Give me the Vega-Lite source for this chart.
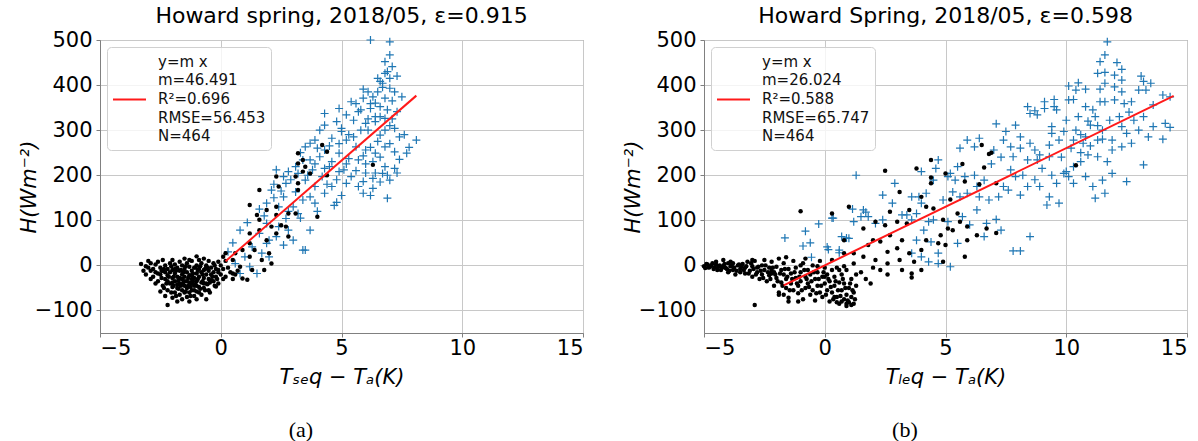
{
"$schema": "https://vega.github.io/schema/vega-lite/v6.json",
"padding": {"left": 17, "top": 4, "right": 0, "bottom": 0},
"config": {
 "font": "DejaVu Sans",
 "view": {"stroke": "#808080", "strokeWidth": 1},
 "axis": {"grid": true, "gridColor": "#c8c8c8", "gridWidth": 1, "domainColor": "#808080", "tickColor": "#808080", "tickSize": 4, "labelFont": "DejaVu Sans", "labelFontSize": 21, "labelColor": "#000", "labelPadding": 4, "titleFont": "DejaVu Sans", "titleFontSize": 21, "titleFontStyle": "italic", "titleFontWeight": "normal", "titleColor": "#000"},
 "title": {"font": "DejaVu Sans", "fontSize": 22, "fontWeight": "normal", "color": "#000"},
 "legend": {"orient": "top-left", "offset": 7, "padding": 5, "fillColor": "rgba(255,255,255,0.8)", "strokeColor": "#d0d0d0", "cornerRadius": 4, "labelFont": "DejaVu Sans", "labelFontSize": 15, "labelColor": "#111", "labelLimit": 0, "labelOffset": 11, "symbolType": "stroke", "symbolSize": 1089, "symbolStrokeWidth": 2, "title": null}
},
"datasets": {
 "aFit": [{"x": 0.2, "y": 9.3, "label": "fit"}, {"x": 8.1, "y": 376.6, "label": "fit"}],
 "bFit": [{"x": -1.7, "y": -44.2, "label": "fit"}, {"x": 14.45, "y": 376.0, "label": "fit"}],
 "aPlus": [
{"x":7.0,"y":496},{"x":6.2,"y":500},{"x":7.0,"y":467},{"x":6.8,"y":452},{"x":7.1,"y":441},{"x":6.8,"y":426},{"x":7.3,"y":420},{"x":6.6,"y":408},{"x":7.0,"y":393},{"x":6.5,"y":385},{"x":6.8,"y":371},{"x":7.5,"y":374},{"x":6.3,"y":374},{"x":5.9,"y":391},{"x":5.9,"y":371},{"x":5.6,"y":359},{"x":5.7,"y":341},{"x":6.2,"y":348},{"x":6.6,"y":352},{"x":7.3,"y":341},{"x":6.8,"y":326},{"x":6.4,"y":319},{"x":6.0,"y":315},{"x":5.5,"y":322},{"x":5.2,"y":334},{"x":4.9,"y":348},{"x":4.3,"y":337},{"x":4.8,"y":319},{"x":4.3,"y":311},{"x":5.0,"y":297},{"x":5.5,"y":285},{"x":6.1,"y":300},{"x":6.6,"y":289},{"x":7.2,"y":304},{"x":7.4,"y":285},{"x":8.1,"y":278},{"x":7.7,"y":249},{"x":7.2,"y":252},{"x":6.8,"y":263},{"x":6.4,"y":249},{"x":6.0,"y":256},{"x":5.6,"y":263},{"x":5.2,"y":278},{"x":4.6,"y":282},{"x":4.1,"y":300},{"x":3.9,"y":278},{"x":4.3,"y":256},{"x":4.9,"y":249},{"x":5.3,"y":237},{"x":5.7,"y":234},{"x":6.3,"y":230},{"x":6.8,"y":219},{"x":7.2,"y":215},{"x":7.0,"y":189},{"x":6.7,"y":204},{"x":6.3,"y":193},{"x":5.9,"y":186},{"x":5.4,"y":197},{"x":4.9,"y":208},{"x":4.5,"y":219},{"x":4.1,"y":241},{"x":3.7,"y":234},{"x":3.5,"y":263},{"x":3.8,"y":212},{"x":4.2,"y":197},{"x":4.6,"y":175},{"x":5.2,"y":182},{"x":5.7,"y":175},{"x":6.3,"y":171},{"x":6.9,"y":149},{"x":4.3,"y":160},{"x":3.9,"y":175},{"x":3.5,"y":189},{"x":3.2,"y":204},{"x":3.1,"y":219},{"x":2.8,"y":208},{"x":2.7,"y":182},{"x":2.6,"y":197},{"x":2.3,"y":212},{"x":3.7,"y":152},{"x":3.9,"y":138},{"x":3.4,"y":145},{"x":3.1,"y":163},{"x":3.0,"y":130},{"x":3.2,"y":115},{"x":2.6,"y":152},{"x":2.4,"y":130},{"x":2.1,"y":167},{"x":1.9,"y":138},{"x":2.7,"y":104},{"x":2.4,"y":86},{"x":2.3,"y":64},{"x":3.0,"y":56},{"x":3.4,"y":34},{"x":3.5,"y":34},{"x":3.7,"y":78},{"x":2.8,"y":78},{"x":1.9,"y":93},{"x":2.0,"y":56},{"x":1.6,"y":71},{"x":0.8,"y":78},{"x":1.3,"y":41},{"x":1.7,"y":27},{"x":2.0,"y":19},{"x":1.0,"y":19},{"x":0.6,"y":4},{"x":1.2,"y":-3},{"x":1.5,"y":-18},{"x":0.8,"y":-18},{"x":1.9,"y":49},{"x":3.7,"y":271},{"x":3.4,"y":234},{"x":5.0,"y":304},{"x":5.4,"y":363},{"x":6.2,"y":359},{"x":6.7,"y":404},{"x":7.0,"y":415},
{"x":6.9,"y":430},{"x":6.5,"y":415},{"x":6.1,"y":385},{"x":7.1,"y":365},{"x":6.9,"y":345},{"x":6.6,"y":330},{"x":6.1,"y":325},{"x":7.0,"y":310},{"x":6.8,"y":300},{"x":7.6,"y":290},{"x":5.8,"y":300},{"x":6.5,"y":275},{"x":7.0,"y":270},{"x":6.2,"y":262},{"x":5.9,"y":243},{"x":6.6,"y":240},{"x":7.4,"y":235},{"x":6.0,"y":225},{"x":5.2,"y":225},{"x":4.6,"y":230},{"x":6.9,"y":200},{"x":6.4,"y":205},{"x":5.6,"y":210},{"x":5.1,"y":212},{"x":7.3,"y":205},{"x":6.6,"y":185},{"x":5.9,"y":160},{"x":6.2,"y":155},{"x":4.8,"y":140},{"x":4.7,"y":133},{"x":5.0,"y":155},{"x":4.4,"y":180},{"x":3.6,"y":200},{"x":2.9,"y":190},{"x":2.2,"y":180},{"x":4.0,"y":260},{"x":4.5,"y":265},{"x":5.3,"y":290},{"x":5.8,"y":345},{"x":6.4,"y":360},{"x":7.2,"y":385},{"x":6.7,"y":395},{"x":6.4,"y":330},{"x":7.1,"y":325},{"x":4.9,"y":270},{"x":3.3,"y":250},{"x":3.9,"y":225},{"x":4.3,"y":215},{"x":2.5,"y":165},{"x":2.2,"y":150},{"x":1.6,"y":125},{"x":1.1,"y":95},{"x":0.5,"y":50},{"x":0.3,"y":30},{"x":2.8,"y":120},{"x":3.3,"y":105},{"x":2.6,"y":45},{"x":1.8,"y":110},{"x":4.0,"y":120},{"x":4.8,"y":190},{"x":6.0,"y":205},{"x":7.8,"y":262}
 ],
 "aDot": [
{"x":-3.3,"y":3},{"x":-3.2,"y":-12},{"x":-3.0,"y":-5},{"x":-2.9,"y":5},{"x":-2.8,"y":-25},{"x":-2.8,"y":-8},{"x":-2.7,"y":2},{"x":-2.7,"y":-15},{"x":-2.6,"y":-35},{"x":-2.6,"y":8},{"x":-2.5,"y":-20},{"x":-2.5,"y":-5},{"x":-2.4,"y":-45},{"x":-2.4,"y":-12},{"x":-2.4,"y":12},{"x":-2.3,"y":-68},{"x":-2.3,"y":-30},{"x":-2.3,"y":0},{"x":-2.2,"y":-88},{"x":-2.2,"y":-55},{"x":-2.2,"y":-22},{"x":-2.2,"y":-8},{"x":-2.1,"y":-40},{"x":-2.1,"y":-15},{"x":-2.1,"y":5},{"x":-2.0,"y":-72},{"x":-2.0,"y":-48},{"x":-2.0,"y":-28},{"x":-2.0,"y":-10},{"x":-1.9,"y":-60},{"x":-1.9,"y":-35},{"x":-1.9,"y":-18},{"x":-1.9,"y":2},{"x":-1.8,"y":-80},{"x":-1.8,"y":-50},{"x":-1.8,"y":-25},{"x":-1.8,"y":-5},{"x":-1.7,"y":-65},{"x":-1.7,"y":-40},{"x":-1.7,"y":-12},{"x":-1.7,"y":8},{"x":-1.6,"y":-75},{"x":-1.6,"y":-55},{"x":-1.6,"y":-30},{"x":-1.6,"y":-20},{"x":-1.6,"y":0},{"x":-1.5,"y":-45},{"x":-1.5,"y":-25},{"x":-1.5,"y":-8},{"x":-1.5,"y":15},{"x":-1.4,"y":-70},{"x":-1.4,"y":-50},{"x":-1.4,"y":-35},{"x":-1.4,"y":-15},{"x":-1.4,"y":5},{"x":-1.3,"y":-80},{"x":-1.3,"y":-60},{"x":-1.3,"y":-38},{"x":-1.3,"y":-22},{"x":-1.3,"y":-3},{"x":-1.2,"y":-55},{"x":-1.2,"y":-30},{"x":-1.2,"y":-12},{"x":-1.2,"y":10},{"x":-1.1,"y":-68},{"x":-1.1,"y":-45},{"x":-1.1,"y":-28},{"x":-1.1,"y":-5},{"x":-1.0,"y":-58},{"x":-1.0,"y":-35},{"x":-1.0,"y":-18},{"x":-1.0,"y":20},{"x":-1.0,"y":0},{"x":-0.9,"y":-48},{"x":-0.9,"y":-25},{"x":-0.9,"y":-8},{"x":-0.9,"y":12},{"x":-0.8,"y":-65},{"x":-0.8,"y":-38},{"x":-0.8,"y":-15},{"x":-0.8,"y":5},{"x":-0.7,"y":-50},{"x":-0.7,"y":-28},{"x":-0.7,"y":-10},{"x":-0.7,"y":15},{"x":-0.6,"y":-75},{"x":-0.6,"y":-40},{"x":-0.6,"y":-20},{"x":-0.6,"y":0},{"x":-0.5,"y":-55},{"x":-0.5,"y":-30},{"x":-0.5,"y":-12},{"x":-0.5,"y":10},{"x":-0.4,"y":-20},{"x":-0.4,"y":-5},{"x":-0.3,"y":-35},{"x":-0.3,"y":-15},{"x":-0.3,"y":5},{"x":-0.2,"y":-25},{"x":-0.2,"y":-8},{"x":-0.1,"y":-40},{"x":-0.1,"y":-15},{"x":-0.1,"y":8},{"x":0.0,"y":-20},{"x":0.0,"y":0},{"x":0.1,"y":-8},{"x":0.2,"y":-25},{"x":0.2,"y":10},{"x":0.3,"y":-5},{"x":0.4,"y":-15},{"x":0.5,"y":-30},{"x":0.6,"y":-20},{"x":0.7,"y":-12},{"x":1.1,"y":-32},{"x":-1.7,"y":-28},{"x":-1.2,"y":-40},{"x":-2.3,"y":-15},{"x":-1.5,"y":-60},{"x":-0.9,"y":-60},{"x":-1.0,"y":-75},{"x":-2.5,"y":-58},{"x":-2.7,"y":-40},{"x":-3.1,"y":-20},{"x":-3.0,"y":10},{"x":-2.9,"y":-30},
{"x":-2.45,"y":-28},{"x":-2.35,"y":-8},{"x":-2.25,"y":-40},{"x":-2.15,"y":-25},{"x":-2.05,"y":-2},{"x":-1.95,"y":-45},{"x":-1.85,"y":-12},{"x":-1.75,"y":-52},{"x":-1.65,"y":-10},{"x":-1.55,"y":-38},{"x":-1.45,"y":-2},{"x":-1.35,"y":-28},{"x":-1.25,"y":-48},{"x":-1.15,"y":-18},{"x":-1.05,"y":-42},{"x":-0.95,"y":-30},{"x":-0.85,"y":-2},{"x":-0.75,"y":-35},{"x":-0.65,"y":-8},{"x":-0.55,"y":-42},{"x":-0.45,"y":-38},{"x":-0.35,"y":-25},{"x":-0.25,"y":-45},{"x":-0.15,"y":-30},{"x":-2.45,"y":-12},{"x":-2.35,"y":-50},{"x":-2.05,"y":-60},{"x":-1.85,"y":-68},{"x":-1.65,"y":-45},{"x":-1.45,"y":-58},{"x":-1.25,"y":-68},{"x":-1.05,"y":-5},{"x":-0.85,"y":-52},{"x":-0.65,"y":-55},{"x":-1.95,"y":-25},{"x":-1.75,"y":-33},{"x":-1.55,"y":-15},{"x":-1.35,"y":-45},{"x":-1.15,"y":-35},{"x":-0.95,"y":-12},{"x":-0.75,"y":-20},{"x":-0.55,"y":-5},{"x":-2.6,"y":-18},{"x":-2.9,"y":-12},{"x":-3.1,"y":-2},{"x":-2.0,"y":12},{"x":-1.3,"y":12},{"x":-0.45,"y":-60},{"x":-0.25,"y":0},{"x":0.1,"y":-30},{"x":-1.8,"y":-42},{"x":-2.2,"y":-35},{"x":-1.5,"y":-35},{"x":-1.0,"y":-45},{"x":-0.7,"y":-40},{"x":-1.2,"y":-22},{"x":-1.6,"y":-42},{"x":-2.0,"y":-38},{"x":-1.1,"y":-55},{"x":-1.9,"y":-8},
{"x":4.2,"y":267},{"x":4.4,"y":252},{"x":3.2,"y":249},{"x":3.4,"y":234},{"x":3.5,"y":219},{"x":3.2,"y":226},{"x":3.4,"y":208},{"x":3.7,"y":204},{"x":3.1,"y":197},{"x":3.2,"y":182},{"x":3.2,"y":167},{"x":4.4,"y":200},{"x":4.0,"y":108},{"x":6.3,"y":223},{"x":2.3,"y":197},{"x":2.4,"y":175},{"x":1.6,"y":167},{"x":1.2,"y":134},{"x":1.9,"y":123},{"x":2.3,"y":130},{"x":1.5,"y":112},{"x":1.6,"y":101},{"x":2.3,"y":112},{"x":2.8,"y":115},{"x":3.1,"y":115},{"x":2.5,"y":89},{"x":2.1,"y":86},{"x":2.3,"y":71},{"x":2.7,"y":86},{"x":2.8,"y":64},{"x":1.6,"y":78},{"x":1.9,"y":56},{"x":1.2,"y":71},{"x":1.2,"y":49},{"x":0.9,"y":34},{"x":1.4,"y":34},{"x":1.7,"y":12},{"x":1.2,"y":19},{"x":0.6,"y":27},{"x":0.2,"y":27},{"x":0.1,"y":19},{"x":0.5,"y":12},{"x":0.8,"y":-3},{"x":1.3,"y":-10},{"x":1.8,"y":-10},{"x":2.1,"y":4},{"x":0.9,"y":-29},{"x":0.5,"y":-18},{"x":-0.1,"y":-10},{"x":-0.4,"y":-33},{"x":-0.6,"y":-3},{"x":-0.2,"y":-47},{"x":2.0,"y":27}
 ],
 "bPlus": [
{"x":11.7,"y":496},{"x":11.6,"y":467},{"x":11.4,"y":452},{"x":12.1,"y":450},{"x":12.3,"y":435},{"x":11.3,"y":426},{"x":11.6,"y":428},{"x":12.0,"y":422},{"x":12.3,"y":411},{"x":13.1,"y":420},{"x":13.2,"y":408},{"x":13.5,"y":404},{"x":13.3,"y":389},{"x":13.0,"y":389},{"x":12.3,"y":385},{"x":12.0,"y":396},{"x":11.6,"y":404},{"x":11.4,"y":391},{"x":10.8,"y":391},{"x":10.5,"y":405},{"x":10.1,"y":398},{"x":10.4,"y":389},{"x":10.3,"y":368},{"x":10.1,"y":367},{"x":9.5,"y":368},{"x":9.1,"y":363},{"x":9.5,"y":352},{"x":9.1,"y":348},{"x":8.7,"y":343},{"x":8.4,"y":352},{"x":8.5,"y":337},{"x":8.8,"y":334},{"x":9.6,"y":345},{"x":10.8,"y":352},{"x":11.1,"y":345},{"x":11.4,"y":363},{"x":11.6,"y":363},{"x":12.0,"y":367},{"x":12.4,"y":359},{"x":12.7,"y":363},{"x":13.6,"y":356},{"x":14.0,"y":378},{"x":14.3,"y":374},{"x":14.1,"y":315},{"x":14.3,"y":306},{"x":14.0,"y":280},{"x":13.6,"y":308},{"x":13.4,"y":285},{"x":13.2,"y":330},{"x":13.0,"y":300},{"x":12.8,"y":322},{"x":12.7,"y":271},{"x":12.5,"y":293},{"x":12.3,"y":308},{"x":11.9,"y":278},{"x":11.8,"y":322},{"x":11.5,"y":300},{"x":11.3,"y":278},{"x":11.2,"y":330},{"x":11.0,"y":311},{"x":10.8,"y":285},{"x":10.7,"y":271},{"x":10.4,"y":300},{"x":10.3,"y":278},{"x":10.0,"y":322},{"x":9.9,"y":297},{"x":9.7,"y":278},{"x":9.4,"y":308},{"x":9.4,"y":293},{"x":9.3,"y":267},{"x":9.3,"y":241},{"x":8.9,"y":245},{"x":8.7,"y":256},{"x":8.5,"y":271},{"x":8.1,"y":260},{"x":7.8,"y":241},{"x":7.7,"y":263},{"x":7.5,"y":297},{"x":7.9,"y":311},{"x":8.1,"y":285},{"x":7.1,"y":314},{"x":7.4,"y":278},{"x":7.0,"y":256},{"x":6.4,"y":282},{"x":6.2,"y":263},{"x":5.9,"y":278},{"x":5.6,"y":260},{"x":5.5,"y":219},{"x":5.2,"y":204},{"x":5.4,"y":189},{"x":5.8,"y":197},{"x":6.2,"y":200},{"x":6.3,"y":175},{"x":6.6,"y":189},{"x":6.4,"y":152},{"x":6.8,"y":145},{"x":7.2,"y":152},{"x":7.4,"y":175},{"x":7.6,"y":167},{"x":7.7,"y":212},{"x":7.9,"y":197},{"x":8.2,"y":200},{"x":8.4,"y":175},{"x":8.1,"y":156},{"x":8.4,"y":234},{"x":8.8,"y":234},{"x":8.9,"y":175},{"x":9.3,"y":152},{"x":9.2,"y":134},{"x":9.7,"y":138},{"x":9.6,"y":182},{"x":9.9,"y":204},{"x":10.1,"y":197},{"x":10.3,"y":182},{"x":10.8,"y":197},{"x":11.1,"y":175},{"x":11.2,"y":149},{"x":11.6,"y":160},{"x":11.5,"y":189},{"x":11.9,"y":204},{"x":11.7,"y":230},{"x":11.3,"y":241},{"x":10.9,"y":245},{"x":10.6,"y":230},{"x":10.3,"y":219},{"x":10.0,"y":208},{"x":12.5,"y":186},{"x":11.9,"y":256},{"x":12.3,"y":263},{"x":13.2,"y":223},{"x":8.5,"y":64},{"x":7.8,"y":32},{"x":8.1,"y":32},{"x":7.3,"y":78},{"x":7.1,"y":102},{"x":6.6,"y":64},{"x":6.7,"y":93},{"x":6.3,"y":123},{"x":6.0,"y":90},{"x":5.7,"y":108},{"x":5.5,"y":49},{"x":5.2,"y":-3},{"x":4.7,"y":4},{"x":4.7,"y":27},{"x":4.4,"y":52},{"x":4.1,"y":78},{"x":4.0,"y":138},{"x":3.9,"y":152},{"x":4.2,"y":160},{"x":4.6,"y":215},{"x":4.7,"y":234},{"x":4.0,"y":208},{"x":4.5,"y":189},{"x":5.1,"y":197},{"x":5.3,"y":163},{"x":5.6,"y":152},{"x":5.9,"y":160},{"x":4.9,"y":145},{"x":5.1,"y":97},{"x":4.5,"y":101},{"x":4.3,"y":97},{"x":3.8,"y":115},{"x":3.6,"y":101},{"x":3.4,"y":112},{"x":3.6,"y":152},{"x":3.2,"y":112},{"x":2.8,"y":138},{"x":2.4,"y":156},{"x":2.9,"y":182},{"x":2.4,"y":101},{"x":2.1,"y":93},{"x":1.8,"y":108},{"x":1.6,"y":123},{"x":1.5,"y":108},{"x":1.3,"y":200},{"x":1.2,"y":97},{"x":1.0,"y":60},{"x":0.7,"y":64},{"x":0.6,"y":34},{"x":0.3,"y":105},{"x":0.1,"y":41},{"x":3.8,"y":56},{"x":3.6,"y":27},{"x":4.0,"y":19},{"x":4.3,"y":8},
{"x":-1.65,"y":61},{"x":-0.8,"y":76},{"x":-0.9,"y":43},{"x":-0.6,"y":50},{"x":-0.25,"y":92},{"x":0.35,"y":105},{"x":0.9,"y":61},{"x":0.15,"y":35},{"x":0.6,"y":28},{"x":-0.55,"y":18},{"x":1.15,"y":125},{"x":1.7,"y":118},
{"x":10.5,"y":330},{"x":10.9,"y":320},{"x":11.3,"y":310},{"x":10.2,"y":260},{"x":10.6,"y":250},{"x":11.0,"y":265},{"x":12.2,"y":330},{"x":12.6,"y":340},{"x":9.8,"y":240},{"x":9.0,"y":215},{"x":8.7,"y":190},{"x":9.4,"y":200},{"x":6.9,"y":225},{"x":7.3,"y":240},{"x":10.6,"y":290},{"x":11.5,"y":280}
 ],
 "bDot": [
{"x":-5.0,"y":-2},{"x":-4.9,"y":3},{"x":-4.8,"y":-5},{"x":-4.7,"y":0},{"x":-4.6,"y":-8},{"x":-4.5,"y":2},{"x":-4.4,"y":-3},{"x":-4.3,"y":-10},{"x":-4.2,"y":12},{"x":-4.2,"y":-1},{"x":-4.1,"y":-6},{"x":-4.0,"y":-15},{"x":-3.9,"y":-2},{"x":-3.8,"y":5},{"x":-3.8,"y":-10},{"x":-3.7,"y":-20},{"x":-3.6,"y":0},{"x":-3.5,"y":-8},{"x":-3.4,"y":3},{"x":-3.3,"y":-18},{"x":-3.3,"y":-5},{"x":-3.2,"y":8},{"x":-3.1,"y":-12},{"x":-3.0,"y":-25},{"x":-3.0,"y":-2},{"x":-2.9,"y":-88},{"x":-2.9,"y":10},{"x":-2.8,"y":-15},{"x":-2.8,"y":-5},{"x":-2.7,"y":-30},{"x":-2.6,"y":0},{"x":-2.6,"y":-20},{"x":-2.5,"y":-10},{"x":-2.5,"y":12},{"x":-2.4,"y":-35},{"x":-2.3,"y":-5},{"x":-2.3,"y":-22},{"x":-2.2,"y":8},{"x":-2.1,"y":-15},{"x":-2.1,"y":-45},{"x":-2.0,"y":-3},{"x":-2.0,"y":-28},{"x":-1.9,"y":-60},{"x":-1.9,"y":15},{"x":-1.8,"y":-10},{"x":-1.8,"y":-38},{"x":-1.7,"y":-65},{"x":-1.7,"y":-20},{"x":-1.7,"y":5},{"x":-1.6,"y":-50},{"x":-1.6,"y":-30},{"x":-1.5,"y":-8},{"x":-1.5,"y":-72},{"x":-1.4,"y":-40},{"x":-1.4,"y":-18},{"x":-1.3,"y":10},{"x":-1.3,"y":-55},{"x":-1.2,"y":-28},{"x":-1.2,"y":-5},{"x":-1.1,"y":-62},{"x":-1.1,"y":-45},{"x":-1.0,"y":-15},{"x":-1.0,"y":-35},{"x":-0.9,"y":-75},{"x":-0.9,"y":5},{"x":-0.8,"y":-25},{"x":-0.8,"y":-50},{"x":-0.7,"y":-10},{"x":-0.7,"y":-40},{"x":-0.6,"y":-65},{"x":-0.6,"y":-20},{"x":-0.5,"y":0},{"x":-0.5,"y":-55},{"x":-0.4,"y":-30},{"x":-0.4,"y":-78},{"x":-0.3,"y":-15},{"x":-0.3,"y":-45},{"x":-0.2,"y":-60},{"x":-0.2,"y":10},{"x":-0.1,"y":-25},{"x":-0.1,"y":-70},{"x":0.0,"y":-5},{"x":0.0,"y":-40},{"x":0.1,"y":-55},{"x":0.1,"y":-20},{"x":0.2,"y":-80},{"x":0.2,"y":-35},{"x":0.3,"y":-10},{"x":0.3,"y":-60},{"x":0.4,"y":-45},{"x":0.4,"y":-25},{"x":0.5,"y":-70},{"x":0.5,"y":-5},{"x":0.6,"y":-38},{"x":0.6,"y":-85},{"x":0.7,"y":-55},{"x":0.7,"y":-20},{"x":0.8,"y":-75},{"x":0.8,"y":-40},{"x":0.9,"y":-65},{"x":0.9,"y":-10},{"x":1.0,"y":-82},{"x":1.0,"y":-50},{"x":1.1,"y":-30},{"x":1.1,"y":-70},{"x":1.2,"y":-60},{"x":1.2,"y":-85},{"x":1.3,"y":-45},{"x":1.3,"y":-20},{"x":-0.8,"y":15},{"x":-1.6,"y":18},{"x":-2.2,"y":-12},{"x":-3.5,"y":-15},{"x":-4.0,"y":5},{"x":0.3,"y":12},{"x":0.8,"y":-2},{"x":-0.3,"y":-2},{"x":1.5,"y":-15},{"x":1.7,"y":-30},{"x":1.9,"y":-40},{"x":2.3,"y":-10},{"x":2.6,"y":-20},{"x":3.2,"y":-10},{"x":3.6,"y":-27},{"x":2.0,"y":-5},{"x":0.9,"y":-90},{"x":0.7,"y":-80},{"x":0.4,"y":-70},{"x":-1.1,"y":-80},{"x":-1.9,"y":-65},{"x":-1.5,"y":-80},
{"x":-4.95,"y":-6},{"x":-4.85,"y":2},{"x":-4.75,"y":-3},{"x":-4.65,"y":5},{"x":-4.55,"y":-4},{"x":-4.45,"y":-10},{"x":-4.35,"y":0},{"x":-4.25,"y":-5},{"x":-4.15,"y":3},{"x":-4.05,"y":-8},{"x":-3.95,"y":-12},{"x":-3.85,"y":0},{"x":-3.75,"y":-5},{"x":-3.65,"y":-12},{"x":-3.55,"y":2},{"x":-3.45,"y":-3},{"x":-3.35,"y":-10},{"x":-3.25,"y":-2},{"x":-3.15,"y":-18},{"x":-3.05,"y":5},{"x":-2.95,"y":-8},{"x":-2.85,"y":-20},{"x":-2.75,"y":-3},{"x":-2.65,"y":-12},{"x":-2.55,"y":-28},{"x":-2.45,"y":0},{"x":-2.35,"y":-15},{"x":-2.25,"y":-30},{"x":-2.15,"y":-5},{"x":-2.05,"y":-20},{"x":-1.95,"y":-35},{"x":-1.85,"y":-18},{"x":-1.75,"y":-45},{"x":-1.65,"y":-8},{"x":-1.55,"y":-25},{"x":-1.45,"y":-55},{"x":-1.35,"y":-30},{"x":-1.25,"y":-15},{"x":-1.15,"y":-40},{"x":-1.05,"y":-25},{"x":-0.95,"y":-55},{"x":-0.85,"y":-10},{"x":-0.75,"y":-30},{"x":-0.65,"y":-48},{"x":-0.55,"y":-35},{"x":-0.45,"y":-15},{"x":-0.35,"y":-62},{"x":-0.25,"y":-30},{"x":-0.15,"y":-45},{"x":-0.05,"y":-15},{"x":0.05,"y":-65},{"x":0.15,"y":-30},{"x":0.25,"y":-48},{"x":0.35,"y":-75},{"x":0.45,"y":-35},{"x":0.55,"y":-55},{"x":0.65,"y":-68},{"x":0.75,"y":-30},{"x":0.85,"y":-50},{"x":0.95,"y":-78},{"x":1.05,"y":-40},{"x":1.15,"y":-55},{"x":1.25,"y":-75},{"x":0.9,"y":-85},{"x":1.1,"y":-88},{"x":0.5,"y":-82},{"x":-4.5,"y":8},{"x":-3.9,"y":8},{"x":-3.0,"y":12},{"x":-2.2,"y":-18},{"x":-1.0,"y":0},{"x":0.0,"y":-25},{"x":0.6,"y":-10},
{"x":6.5,"y":267},{"x":6.9,"y":250},{"x":6.8,"y":247},{"x":5.7,"y":225},{"x":6.6,"y":217},{"x":5.8,"y":186},{"x":7.1,"y":182},{"x":6.4,"y":180},{"x":4.4,"y":234},{"x":4.4,"y":195},{"x":4.4,"y":182},{"x":5.0,"y":204},{"x":2.5,"y":210},{"x":3.8,"y":215},{"x":5.2,"y":146},{"x":5.5,"y":115},{"x":4.0,"y":152},{"x":3.5,"y":123},{"x":4.2,"y":130},{"x":4.5,"y":126},{"x":3.1,"y":163},{"x":2.7,"y":119},{"x":3.0,"y":97},{"x":3.4,"y":93},{"x":2.5,"y":89},{"x":2.1,"y":97},{"x":1.6,"y":82},{"x":1.0,"y":130},{"x":0.3,"y":115},{"x":4.9,"y":101},{"x":5.6,"y":97},{"x":5.9,"y":86},{"x":6.3,"y":67},{"x":6.7,"y":82},{"x":7.1,"y":72},{"x":5.3,"y":78},{"x":5.1,"y":82},{"x":4.8,"y":67},{"x":4.7,"y":49},{"x":5.0,"y":45},{"x":4.2,"y":56},{"x":4.0,"y":34},{"x":3.7,"y":8},{"x":3.5,"y":27},{"x":3.2,"y":56},{"x":3.0,"y":38},{"x":2.7,"y":67},{"x":2.6,"y":30},{"x":2.3,"y":53},{"x":2.0,"y":56},{"x":1.8,"y":45},{"x":2.1,"y":12},{"x":2.6,"y":4},{"x":3.1,"y":12},{"x":3.6,"y":-18},{"x":4.0,"y":-10},{"x":4.9,"y":8},{"x":5.8,"y":19},{"x":5.9,"y":56},{"x":1.2,"y":27},{"x":0.8,"y":56},{"x":0.8,"y":27},{"x":1.2,"y":4},{"x":1.6,"y":19},{"x":-1.0,"y":120},{"x":10.4,"y":222}
 ]
},
"resolve": {"scale": {"color": "independent"}, "legend": {"color": "independent"}},
"hconcat": [
 {
  "title": {"text": "(a)", "orient": "bottom", "anchor": "middle", "frame": "bounds", "font": "Liberation Serif", "fontSize": 22, "fontWeight": "normal", "offset": 32},
  "resolve": {"scale": {"color": "independent"}, "legend": {"color": "independent"}},
  "vconcat": [{
   "title": {"text": "Howard spring, 2018/05, ε=0.915", "anchor": "middle", "frame": "group", "offset": 1},
   "width": 483, "height": 293,
   "layer": [
    {"data": {"name": "aPlus"}, "mark": {"type": "point", "shape": "M-1,0L1,0M0,-1L0,1", "filled": false, "color": "#1f77b4", "strokeWidth": 1.2, "size": 64, "opacity": 1},
     "encoding": {
      "x": {"field": "x", "type": "quantitative", "scale": {"domain": [-5, 15], "nice": false, "zero": false}, "axis": {"values": [-5, 0, 5, 10, 15], "title": "Tₛₑq − Tₐ(K)", "titlePadding": 8, "labelPadding": 0}},
      "y": {"field": "y", "type": "quantitative", "scale": {"domain": [-150, 500], "nice": false, "zero": false}, "axis": {"values": [-100, 0, 100, 200, 300, 400, 500], "title": "H(Wm⁻²)", "titlePadding": -5}}
     }},
    {"data": {"name": "aDot"}, "mark": {"type": "circle", "color": "#000000", "size": 20, "opacity": 1},
     "encoding": {"x": {"field": "x", "type": "quantitative"}, "y": {"field": "y", "type": "quantitative"}}},
    {"data": {"name": "aFit"}, "mark": {"type": "line", "strokeWidth": 2},
     "encoding": {"x": {"field": "x", "type": "quantitative"}, "y": {"field": "y", "type": "quantitative"},
      "color": {"field": "label", "type": "nominal", "scale": {"range": ["#ff1a1a"]}, "legend": {"labelExpr": "['y=m x', 'm=46.491', 'R²=0.696', 'RMSE=56.453', 'N=464']", "encode": {"labels": {"update": {"y": {"value": 9.5}, "lineHeight": {"value": 18.7}}}, "symbols": {"update": {"y": {"value": 47.4}}}}}}}}
   ]
  }]
 },
 {
  "title": {"text": "(b)", "orient": "bottom", "anchor": "middle", "frame": "bounds", "font": "Liberation Serif", "fontSize": 22, "fontWeight": "normal", "offset": 32},
  "resolve": {"scale": {"color": "independent"}, "legend": {"color": "independent"}},
  "vconcat": [{
   "title": {"text": "Howard Spring, 2018/05, ε=0.598", "anchor": "middle", "frame": "group", "offset": 1},
   "width": 483, "height": 293,
   "layer": [
    {"data": {"name": "bPlus"}, "mark": {"type": "point", "shape": "M-1,0L1,0M0,-1L0,1", "filled": false, "color": "#1f77b4", "strokeWidth": 1.2, "size": 64, "opacity": 1},
     "encoding": {
      "x": {"field": "x", "type": "quantitative", "scale": {"domain": [-5, 15], "nice": false, "zero": false}, "axis": {"values": [-5, 0, 5, 10, 15], "title": "Tₗₑq − Tₐ(K)", "titlePadding": 8, "labelPadding": 0}},
      "y": {"field": "y", "type": "quantitative", "scale": {"domain": [-150, 500], "nice": false, "zero": false}, "axis": {"values": [-100, 0, 100, 200, 300, 400, 500], "title": "H(Wm⁻²)", "titlePadding": -5}}
     }},
    {"data": {"name": "bDot"}, "mark": {"type": "circle", "color": "#000000", "size": 20, "opacity": 1},
     "encoding": {"x": {"field": "x", "type": "quantitative"}, "y": {"field": "y", "type": "quantitative"}}},
    {"data": {"name": "bFit"}, "mark": {"type": "line", "strokeWidth": 2},
     "encoding": {"x": {"field": "x", "type": "quantitative"}, "y": {"field": "y", "type": "quantitative"},
      "color": {"field": "label", "type": "nominal", "scale": {"range": ["#ff1a1a"]}, "legend": {"labelExpr": "['y=m x', 'm=26.024', 'R²=0.588', 'RMSE=65.747', 'N=464']", "encode": {"labels": {"update": {"y": {"value": 9.5}, "lineHeight": {"value": 18.7}}}, "symbols": {"update": {"y": {"value": 47.4}}}}}}}}
   ]
  }]
 }
],
"spacing": 37
}
